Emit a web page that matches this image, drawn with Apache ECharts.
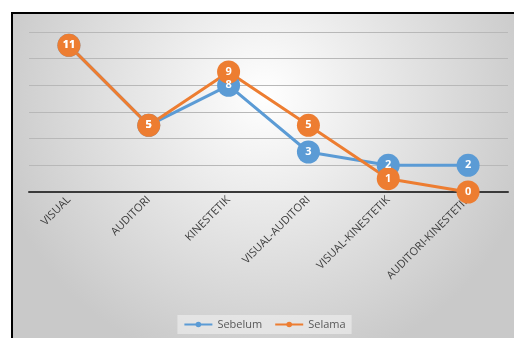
<!DOCTYPE html>
<html>
<head>
<meta charset="utf-8">
<script src="https://cdn.jsdelivr.net/npm/echarts@6/dist/echarts.min.js"></script>
<style>
html,body{margin:0;padding:0;background:#fff;width:514px;height:338px;overflow:hidden;}
#frame{position:absolute;left:11px;top:12px;width:503px;height:326px;border-left:2px solid #000;border-top:2px solid #000;}
#chart{position:absolute;left:0;top:0;width:503px;height:326px;}
</style>
</head>
<body>
<div id="frame"><div id="chart"></div></div>
<script>
const categories = ['VISUAL','AUDITORI','KINESTETIK','VISUAL-AUDITORI','VISUAL-KINESTETIK','AUDITORI-KINESTETIK'];
const sebelum = [11, 5, 8, 3, 2, 2];
const selama = [11, 5, 9, 5, 1, 0];
const yMin = 0, yMax = 12, yStep = 2;

const chart = echarts.init(document.getElementById('chart'));
const font = 'Open Sans, Liberation Sans, sans-serif';
function series(name, data, color) {
  return {
    name, type: 'line', data,
    symbol: 'circle', symbolSize: 23,
    lineStyle: {width: 3, color},
    itemStyle: {color},
    label: {show: true, position: 'inside', color: '#fff', fontWeight: 'bold', fontSize: 11, fontFamily: font},
    emphasis: {disabled: true}
  };
}
chart.setOption({
  animation: false,
  backgroundColor: {
    type: 'radial', x: 0.5, y: 0.25, r: 0.85,
    colorStops: [{offset: 0, color: '#ffffff'}, {offset: 1, color: '#c9c9c9'}]
  },
  grid: {left: 16, right: 8, top: 18, bottom: 148},
  xAxis: {
    type: 'category', data: categories, boundaryGap: true,
    axisLine: {lineStyle: {color: '#3a3a3a', width: 2}},
    axisTick: {show: false},
    axisLabel: {rotate: 45, fontSize: 11, color: '#404040', fontFamily: font, margin: 6, interval: 0}
  },
  yAxis: {
    type: 'value', min: yMin, max: yMax, interval: yStep,
    axisLabel: {show: false}, axisLine: {show: false}, axisTick: {show: false},
    splitLine: {lineStyle: {color: '#b8b8b8', width: 1}}
  },
  legend: {
    bottom: 6, left: 'center', itemWidth: 28, itemHeight: 7, itemGap: 12,
    padding: [4, 6],
    backgroundColor: 'rgba(240,240,240,0.6)',
    textStyle: {fontSize: 11, color: '#595959', fontFamily: font},
    data: ['Sebelum', 'Selama']
  },
  series: [series('Sebelum', sebelum, '#5B9BD5'), series('Selama', selama, '#ED7D31')]
});
</script>
</body>
</html>
